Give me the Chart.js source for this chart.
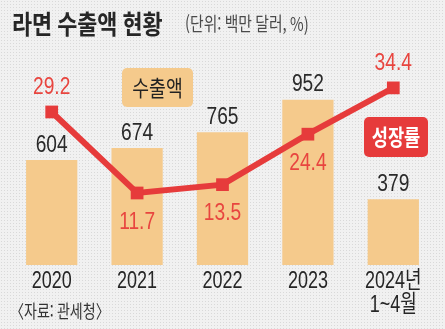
<!DOCTYPE html>
<html lang="ko">
<head>
    <meta charset="UTF-8">
    <title>라면 수출액 현황</title>
    <script src="https://cdn.jsdelivr.net/npm/chart.js"></script>
    <style>
        html, body { margin: 0; padding: 0; }
        body {
            width: 445px; height: 329px; overflow: hidden;
            background-color: #f1f1f1;
            background-image: radial-gradient(#d9d9d9 0.8px, transparent 0.9px);
            background-size: 3px 3px;
        }
        .wrap { position: relative; width: 445px; height: 329px; }
    </style>
</head>
<body>
    <div class="wrap">
        <canvas id="myChart"></canvas>
    </div>
    <script>
        // 데이터
        const years = ['2020', '2021', '2022', '2023', ['2024년', '1~4월']];
        const exportAmount = [604, 674, 765, 952, 379];   // 백만 달러
        const growthRate = [29.2, 11.7, 13.5, 24.4, 34.4]; // %
        const growthLabelPos = ['top', 'bottom', 'bottom', 'bottom', 'top'];

        const NUM = "'Liberation Sans', 'Noto Sans CJK KR', sans-serif";
        const KR = "'Noto Sans CJK KR', sans-serif";

        // 신문 그래픽처럼 좁은 글꼴 느낌을 내려고 가로로만 눌러서 그림
        function narrowText(ctx, text, x, y, sx) {
            ctx.save();
            ctx.translate(x, y);
            ctx.scale(sx, 1);
            ctx.fillText(text, 0, 0);
            ctx.restore();
        }

        const decor = {
            id: 'decor',
            afterDatasetsDraw(chart) {
                const ctx = chart.ctx;
                const xs = chart.scales.x, yb = chart.scales.y, yl = chart.scales.y2;
                ctx.save();
                ctx.textBaseline = 'middle';

                // 제목
                ctx.textAlign = 'left';
                ctx.fillStyle = '#262626';
                ctx.font = 'bold 26px ' + KR;
                narrowText(ctx, '라면 수출액 현황', 12, 24, 0.84);
                ctx.fillStyle = '#4a4a4a';
                ctx.font = '19px ' + KR;
                narrowText(ctx, '(단위: 백만 달러, %)', 185, 24, 0.78);

                // 출처
                ctx.fillStyle = '#333';
                ctx.font = '18px ' + KR;
                narrowText(ctx, '〈자료: 관세청〉', 10, 311, 0.78);

                // 범례 배지
                ctx.fillStyle = '#f5ca8c';
                ctx.beginPath();
                ctx.roundRect(122, 68, 71, 39, 5);
                ctx.fill();
                ctx.fillStyle = '#222';
                ctx.font = '22px ' + KR;
                ctx.textAlign = 'center';
                narrowText(ctx, '수출액', 157.5, 88, 0.83);

                ctx.fillStyle = '#e63b3b';
                ctx.beginPath();
                ctx.roundRect(364, 117, 64, 40, 5);
                ctx.fill();
                ctx.fillStyle = '#fff';
                ctx.font = 'bold 22px ' + KR;
                narrowText(ctx, '성장률', 396, 137, 0.8);

                // x축 라벨
                ctx.fillStyle = '#262626';
                ctx.font = '24px ' + NUM;
                years.forEach((lab, i) => {
                    const x = xs.getPixelForValue(i);
                    const lines = Array.isArray(lab) ? lab : [lab];
                    lines.forEach((t, j) => narrowText(ctx, t, x, 281 + j * 24, 0.75));
                });

                // 값 라벨
                ctx.fillStyle = '#2a2a2a';
                exportAmount.forEach((v, i) => {
                    narrowText(ctx, String(v), xs.getPixelForValue(i), yb.getPixelForValue(v) - 15, 0.8);
                });
                ctx.fillStyle = '#e8453f';
                growthRate.forEach((v, i) => {
                    const off = growthLabelPos[i] === 'top' ? -25 : 29;
                    narrowText(ctx, v.toFixed(1), xs.getPixelForValue(i), yl.getPixelForValue(v) + off, 0.8);
                });
                ctx.restore();
            }
        };

        const ctx = document.getElementById('myChart').getContext('2d');
        const myChart = new Chart(ctx, {
            data: {
                labels: years,
                datasets: [{
                    type: 'line',
                    label: '성장률',
                    data: growthRate,
                    yAxisID: 'y2',
                    borderColor: '#e63b3b',
                    borderWidth: 6,
                    pointStyle: 'rect',
                    pointRadius: 9,
                    pointBackgroundColor: '#e63b3b',
                    pointBorderWidth: 0,
                    order: 0
                }, {
                    type: 'bar',
                    label: '수출액',
                    data: exportAmount,
                    yAxisID: 'y',
                    backgroundColor: '#f5ca8c',
                    barPercentage: 0.6,
                    categoryPercentage: 1,
                    order: 1
                }]
            },
            options: {
                responsive: true,
                maintainAspectRatio: false,
                animation: false,
                layout: { padding: { top: 30, left: 1, right: 3, bottom: 64 } },
                plugins: {
                    legend: { display: false },
                    tooltip: { enabled: false }
                },
                scales: {
                    x: { display: false },
                    y: { display: false, min: 0, max: 1353 },
                    y2: { display: false, min: -3.85, max: 46.9 }
                }
            },
            plugins: [decor]
        });
    </script>
</body>
</html>
